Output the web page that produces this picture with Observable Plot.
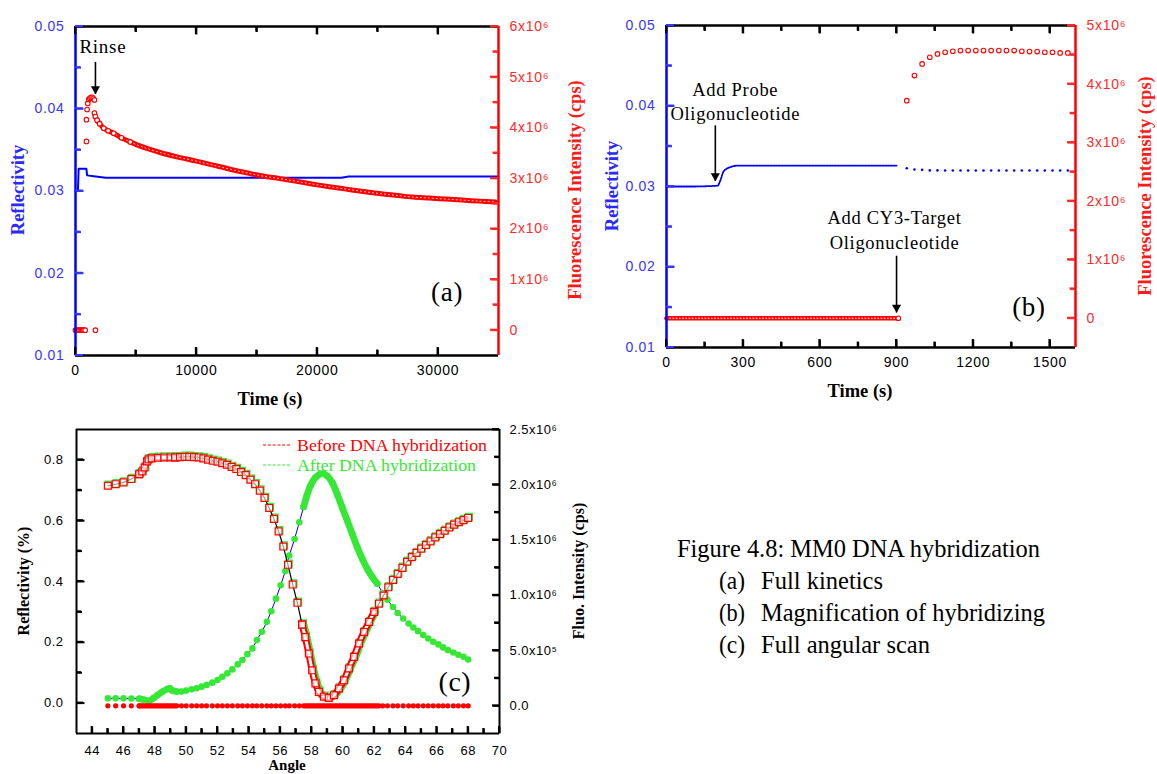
<!DOCTYPE html>
<html>
<head>
<meta charset="utf-8">
<script src="https://cdn.jsdelivr.net/npm/d3@7"></script>
<script src="https://cdn.jsdelivr.net/npm/@observablehq/plot@0.6"></script>
<style>
  body { margin: 0; background: #fff; }
  #fig { position: relative; width: 1157px; height: 774px; overflow: hidden; background: #fff; }
  #fig svg { position: absolute; left: 0; top: 0; }
</style>
</head>
<body>
<div id="fig"></div>
<script>
// ================= Panel (a): full kinetics =================
const aTimeDomain = [0, 35000];
const aReflDomain = [0.01, 0.05];
const aFluoDomain = [-0.5e6, 6e6];
const aTimeMajor = [0, 10000, 20000, 30000];
const aTimeMinor = [5000, 15000, 25000];
const aReflMajor = [0.01, 0.02, 0.03, 0.04, 0.05];
const aReflMinor = [0.015, 0.025, 0.035, 0.045];
const aFluoMajor = [0, 1e6, 2e6, 3e6, 4e6, 5e6, 6e6];
const aFluoMinor = [0.5e6, 1.5e6, 2.5e6, 3.5e6, 4.5e6, 5.5e6];

const aReflTime = [0, 200, 260, 900, 960, 1500, 2500, 6000, 10000, 14000, 18000, 22000, 22600, 26000, 30000, 35000];
const aRefl     = [0.0300, 0.0300, 0.0327, 0.0327, 0.0319, 0.0318, 0.0316, 0.0316, 0.0316, 0.0316, 0.0316, 0.0316, 0.03175, 0.03175, 0.03175, 0.03175];

const aFluoZeroTime = [0, 100, 200, 300, 400, 500, 600, 700, 800, 1650];
const aFluoZero     = [0, 0, 0, 0, 0, 0, 0, 0, 0, 0];
const aFluoRiseTime = [907, 907, 960, 1015, 1100, 1180, 1280, 1375, 1470, 1565];
const aFluoRise     = [3.73e6, 4.16e6, 4.36e6, 4.48e6, 4.56e6, 4.58e6, 4.60e6, 4.60e6, 4.58e6, 4.55e6];
const aFluoDecayTime = [1565, 1650, 1786, 2000, 2335, 2700, 3160, 3800, 4534, 5200, 5907, 7000, 8656, 10000, 11400, 12800, 14150, 15500, 16900, 18300, 19650, 21000, 22400, 23800, 25150, 26500, 27900, 29300, 30640, 32000, 33400, 34770];
const aFluoDecay     = [4.29e6, 4.22e6, 4.15e6, 4.08e6, 3.99e6, 3.94e6, 3.89e6, 3.80e6, 3.72e6, 3.65e6, 3.59e6, 3.51e6, 3.41e6, 3.34e6, 3.26e6, 3.18e6, 3.11e6, 3.045e6, 2.995e6, 2.94e6, 2.885e6, 2.835e6, 2.787e6, 2.74e6, 2.70e6, 2.665e6, 2.63e6, 2.61e6, 2.59e6, 2.57e6, 2.55e6, 2.535e6];

const aNoteText = ["Rinse"];
const aNoteX = [330];
const aNoteY = [0.0468];
const aArrowX = [1650];
const aArrowY1 = [0.0457];
const aArrowY2 = [0.0418];
const aPanelLabel = ["(a)"];
const aPanelX = [30750];
const aPanelY = [0.0177];

// ================= Panel (b): magnification =================
const bTimeDomain = [0, 1600];
const bReflDomain = [0.01, 0.05];
const bFluoDomain = [-0.5e6, 5e6];
const bTimeMajor = [0, 300, 600, 900, 1200, 1500];
const bTimeMinor = [150, 450, 750, 1050, 1350];
const bReflMajor = [0.01, 0.02, 0.03, 0.04, 0.05];
const bReflMinor = [0.015, 0.025, 0.035, 0.045];
const bFluoMajor = [0, 1e6, 2e6, 3e6, 4e6, 5e6];
const bFluoMinor = [0.5e6, 1.5e6, 2.5e6, 3.5e6, 4.5e6];

const bReflTime = [0, 100, 200, 210, 222, 235, 250, 277, 320, 400, 500, 600, 700, 800, 900];
const bRefl     = [0.0300, 0.0300, 0.0301, 0.0307, 0.0318, 0.0322, 0.0324, 0.0326, 0.0326, 0.0326, 0.0326, 0.0326, 0.0326, 0.0326, 0.0326];
const bLateTime = [940, 970, 1000, 1030, 1060, 1090, 1120, 1150, 1180, 1210, 1240, 1270, 1300, 1330, 1360, 1390, 1420, 1450, 1480, 1510, 1540, 1570];
const bReflLate = [0.03227, 0.03211, 0.03207, 0.03200, 0.03200, 0.03199, 0.03199, 0.03199, 0.03198, 0.03199, 0.03199, 0.03198, 0.03199, 0.03199, 0.03198, 0.03199, 0.03199, 0.03198, 0.03199, 0.03199, 0.03198, 0.03199];
const bFluoLate = [3.716e6, 4.144e6, 4.344e6, 4.458e6, 4.515e6, 4.543e6, 4.560e6, 4.572e6, 4.572e6, 4.572e6, 4.572e6, 4.572e6, 4.572e6, 4.572e6, 4.572e6, 4.560e6, 4.555e6, 4.555e6, 4.543e6, 4.543e6, 4.532e6, 4.532e6];
const bFluoZeroTime = [0, 150, 300, 450, 600, 750, 907];
const bFluoZero     = [0, 0, 0, 0, 0, 0, 0];

const bNoteText = ["Add Probe\nOligonucleotide", "Add CY3-Target\nOligonucleotide"];
const bNoteX = [269, 892];
const bNoteY = [0.0434, 0.0274];
const bArrowX = [191, 900];
const bArrowY1 = [0.0376, 0.0214];
const bArrowY2 = [0.0307, 0.01435];
const bPanelLabel = ["(b)"];
const bPanelX = [1418];
const bPanelY = [0.0150];

// ================= Panel (c): angular scan =================
const cAngleDomain = [43, 70];
const cReflDomain = [-0.1, 0.9];
const cFluoDomain = [-0.25e6, 2.5e6];
const cAngleMajor = [44, 46, 48, 50, 52, 54, 56, 58, 60, 62, 64, 66, 68, 70];
const cAngleMinor = [45, 47, 49, 51, 53, 55, 57, 59, 61, 63, 65, 67, 69];
const cReflMajor = [0, 0.2, 0.4, 0.6, 0.8];
const cReflMinor = [0.1, 0.3, 0.5, 0.7];
const cFluoMajor = [0, 0.5e6, 1e6, 1.5e6, 2e6, 2.5e6];
const cFluoMinor = [0.25e6, 0.75e6, 1.25e6, 1.75e6, 2.25e6];

// reflectivity before hybridization (red squares)
const cReflAngleA = [45.0, 45.5, 46.0, 46.5, 47.0];
const cReflA      = [0.715, 0.720, 0.726, 0.737, 0.753];
const cReflBandAngle1 = [47.0, 47.2, 47.35, 47.5, 47.6, 47.8, 48.2, 48.6, 49.0, 49.3];
const cReflBand1      = [0.753, 0.762, 0.775, 0.795, 0.802, 0.805, 0.807, 0.808, 0.808, 0.808];
const cReflAngleB = [49.3, 49.6, 49.9, 50.2, 50.5, 50.8, 51.1, 51.4, 51.7, 52.0, 52.3, 52.6, 52.9, 53.2, 53.5, 53.8, 54.1, 54.4, 54.7, 55.0, 55.3, 55.6, 55.9, 56.2, 56.5, 56.8, 57.1, 57.4];
const cReflB      = [0.808, 0.809, 0.810, 0.810, 0.809, 0.808, 0.805, 0.801, 0.797, 0.794, 0.789, 0.784, 0.777, 0.770, 0.760, 0.750, 0.735, 0.720, 0.699, 0.675, 0.642, 0.606, 0.565, 0.515, 0.455, 0.390, 0.330, 0.258];
const cReflBandAngle2 = [57.4, 57.6, 57.83, 58.04, 58.25, 58.47, 58.79, 59.1, 59.43, 59.75, 60.07, 60.39, 60.71, 61.03, 61.35, 61.67, 62.0];
const cReflBand2      = [0.258, 0.217, 0.163, 0.108, 0.065, 0.037, 0.021, 0.017, 0.026, 0.048, 0.075, 0.114, 0.152, 0.196, 0.234, 0.267, 0.300];
const cReflAngleC = [62.3, 62.6, 62.9, 63.2, 63.5, 63.8, 64.1, 64.4, 64.7, 65.0, 65.3, 65.6, 65.9, 66.2, 66.5, 66.8, 67.1, 67.4, 67.7, 68.0];
const cReflC      = [0.327, 0.354, 0.381, 0.405, 0.425, 0.445, 0.465, 0.480, 0.494, 0.508, 0.520, 0.532, 0.545, 0.556, 0.567, 0.578, 0.587, 0.595, 0.602, 0.609];
// reflectivity after hybridization (green squares), differs in the dip
const cReflAfterBandAngle = [57.5, 57.7, 57.95, 58.15, 58.4, 58.6, 58.9, 59.25, 59.55, 59.9, 60.2, 60.5, 60.85, 61.15, 61.5, 61.8, 62.1];
const cReflAfterBand      = [0.262, 0.220, 0.160, 0.110, 0.063, 0.036, 0.021, 0.018, 0.027, 0.050, 0.078, 0.115, 0.155, 0.197, 0.237, 0.270, 0.300];

// fluorescence after hybridization (green dots)
const cFluoAngleA = [45.0, 45.5, 46.0, 46.5, 47.0];
const cFluoA      = [0.069e6, 0.069e6, 0.068e6, 0.066e6, 0.064e6];
const cFluoBandAngle1 = [47.0, 47.3, 47.6, 47.9, 48.2, 48.5, 48.8, 48.95, 49.1, 49.4];
const cFluoBand1      = [0.064e6, 0.055e6, 0.045e6, 0.069e6, 0.100e6, 0.130e6, 0.153e6, 0.160e6, 0.140e6, 0.129e6];
const cFluoAngleB = [49.7, 50.0, 50.35, 50.67, 50.99, 51.3, 51.67, 52.0, 52.31, 52.63, 52.95, 53.29, 53.59, 53.91, 54.23, 54.51, 54.83, 55.15, 55.43, 55.73, 56.03, 56.33, 56.58, 56.92, 57.22, 57.5];
const cFluoB      = [0.129e6, 0.138e6, 0.150e6, 0.159e6, 0.174e6, 0.189e6, 0.210e6, 0.234e6, 0.264e6, 0.294e6, 0.330e6, 0.375e6, 0.414e6, 0.468e6, 0.520e6, 0.595e6, 0.670e6, 0.760e6, 0.856e6, 0.970e6, 1.090e6, 1.219e6, 1.360e6, 1.510e6, 1.660e6, 1.800e6];
const cFluoBandAngle2 = [57.5, 57.7, 57.93, 58.25, 58.68, 59.0, 59.32, 59.64, 59.96, 60.28, 60.6, 60.92, 61.24, 61.56, 61.88, 62.2];
const cFluoBand2      = [1.800e6, 1.900e6, 1.990e6, 2.065e6, 2.100e6, 2.080e6, 2.020e6, 1.915e6, 1.795e6, 1.676e6, 1.556e6, 1.435e6, 1.330e6, 1.240e6, 1.165e6, 1.105e6];
const cFluoAngleC = [62.55, 62.85, 63.2, 63.5, 63.85, 64.2, 64.5, 64.8, 65.13, 65.45, 65.77, 66.1, 66.4, 66.7, 67.05, 67.37, 67.7, 68.0];
const cFluoC      = [1.020e6, 0.960e6, 0.895e6, 0.840e6, 0.790e6, 0.745e6, 0.709e6, 0.676e6, 0.640e6, 0.610e6, 0.580e6, 0.556e6, 0.529e6, 0.505e6, 0.483e6, 0.462e6, 0.444e6, 0.420e6];

// fluorescence before hybridization (red dots, at zero)
const cFluoZeroAngle = [45.0, 45.5, 46.0, 46.5, 47.0, 49.7, 50.0, 50.35, 50.67, 50.99, 51.3, 51.67, 52.0, 52.31, 52.63, 52.95, 53.29, 53.59, 53.91, 54.23, 54.51, 54.83, 55.15, 55.43, 55.73, 56.03, 56.33, 56.58, 56.92, 57.22, 62.55, 62.85, 63.2, 63.5, 63.85, 64.2, 64.5, 64.8, 65.13, 65.45, 65.77, 66.1, 66.4, 66.7, 67.05, 67.37, 67.7, 68.0];
const cFluoZero      = [0, 0, 0, 0, 0, 0, 0, 0, 0, 0, 0, 0, 0, 0, 0, 0, 0, 0, 0, 0, 0, 0, 0, 0, 0, 0, 0, 0, 0, 0, 0, 0, 0, 0, 0, 0, 0, 0, 0, 0, 0, 0, 0, 0, 0, 0, 0, 0];
const cFluoZeroBandAngle1 = [47.0, 49.4];
const cFluoZeroBandAngle2 = [57.5, 62.3];
const cFluoZeroBand = [0, 0];

const cPanelLabel = ["(c)"];
const cPanelX = [67.15];
const cPanelY = [0.0705];

const legendLabels = ["Before DNA hybridization", "After DNA hybridization"];
const captionTitle = "Figure 4.8: MM0 DNA hybridization";
const captionKeys = ["(a)", "(b)", "(c)"];
const captionItems = ["Full kinetics", "Magnification of hybridizing", "Full angular scan"];

// ================= rendering =================
const W = 1157, H = 774;
const SANS = "'Liberation Sans', Arial, sans-serif";
const SERIF = "'Liberation Serif', 'Times New Roman', serif";
const BLUE = "#0000ff", BLUE_T = "#3636ff", RED = "#ff0000", RED_T = "#ff2a2a", GREEN = "#36e836";
const fig = document.getElementById("fig");
const add = el => fig.appendChild(el);

function box(b, ls) {
  const [L, T, R, B] = b;
  return {
    width: W, height: H,
    marginLeft: L, marginTop: T, marginRight: W - R, marginBottom: H - B,
    style: `position:absolute;left:0;top:0;background:transparent;overflow:visible;font-family:${SANS};letter-spacing:${ls}px;`
  };
}
// inward ticks as short links, lengths converted from pixels to data units
function tickLinks(b, xDom, yDom, side, values, len, color) {
  const ux = (xDom[1] - xDom[0]) / (b[2] - b[0]);
  const uy = (yDom[1] - yDom[0]) / (b[3] - b[1]);
  const o = {stroke: color, strokeWidth: 2};
  if (side === "bottom") return Plot.link(values, {x1: d => d, x2: d => d, y1: () => yDom[0], y2: () => yDom[0] + len * uy, ...o});
  if (side === "top") return Plot.link(values, {x1: d => d, x2: d => d, y1: () => yDom[1], y2: () => yDom[1] - len * uy, ...o});
  if (side === "left") return Plot.link(values, {y1: d => d, y2: d => d, x1: () => xDom[0], x2: () => xDom[0] + len * ux, ...o});
  return Plot.link(values, {y1: d => d, y2: d => d, x1: () => xDom[1], x2: () => xDom[1] - len * ux, ...o});
}
function yAxisMarks(b, xDom, yDom, anchor, major, minor, color, fmt, fs, pad, len, mlen) {
  return [
    tickLinks(b, xDom, yDom, anchor, major, len, color),
    tickLinks(b, xDom, yDom, anchor, minor, mlen, color),
    Plot.axisY(major, {anchor, tickSize: 0, tickPadding: pad, tickFormat: fmt, color, fontSize: fs, label: null})
  ];
}
function xAxisMarks(b, xDom, yDom, anchor, major, minor, fmt, fs, pad, len, mlen) {
  const marks = [
    tickLinks(b, xDom, yDom, anchor, major, len, "black"),
    tickLinks(b, xDom, yDom, anchor, minor, mlen, "black")
  ];
  if (fmt) marks.push(Plot.axisX(major, {anchor, tickSize: 0, tickPadding: pad, tickFormat: fmt, color: "black", fontSize: fs, label: null}));
  return marks;
}
function arrowMarks(X, Y1, Y2) {
  return [
    Plot.link(X, {x1: X, x2: X, y1: Y1, y2: Y2, stroke: "black", strokeWidth: 1.6}),
    Plot.dot(X, {x: X, y: Y2, symbol: "triangle", rotate: 180, r: 3.4, fill: "black", stroke: "none", dy: -5})
  ];
}
const sciFmt = d => d === 0 ? "0" : (d / 1e6) + "x10\u2076";
const sciFmtC = d => d === 0 ? "0.0" : d < 1e6 ? (d / 1e5).toFixed(1) + "x10\u2075" : (d / 1e6).toFixed(1) + "x10\u2076";

const aBox = [75, 26, 498, 355];
const bBox = [666, 25, 1075, 347];
const cBox = [76, 429, 499, 733];

// ---------- data layers ----------
add(Plot.plot({
  ...box(aBox, 0.7),
  x: {domain: aTimeDomain, axis: null}, y: {domain: aReflDomain, axis: null},
  marks: [
    Plot.line(aRefl, {x: aReflTime, y: aRefl, stroke: BLUE, strokeWidth: 2}),
    ...arrowMarks(aArrowX, aArrowY1, aArrowY2),
    Plot.text(aNoteText, {x: aNoteX, y: aNoteY, textAnchor: "start", lineAnchor: "bottom", fontSize: 19, fontFamily: SERIF, fill: "black"}),
    Plot.text(aPanelLabel, {x: aPanelX, y: aPanelY, fontSize: 27, fontFamily: SERIF, fill: "black", lineAnchor: "middle"})
  ]
}));
add(Plot.plot({
  ...box(aBox, 0.7),
  x: {domain: aTimeDomain, axis: null}, y: {domain: aFluoDomain, axis: null},
  marks: [
    Plot.dot(aFluoZero, {x: aFluoZeroTime, y: aFluoZero, r: 2.3, stroke: RED, fill: "white", strokeWidth: 1.1}),
    Plot.line(aFluoDecay, {x: aFluoDecayTime, y: aFluoDecay, stroke: RED, strokeWidth: 5, curve: "catmull-rom"}),
    Plot.line(aFluoDecay, {x: aFluoDecayTime, y: aFluoDecay, stroke: "white", strokeWidth: 0.9, strokeDasharray: "1,3", curve: "catmull-rom"}),
    Plot.dot(aFluoDecay.slice(0, 9), {x: aFluoDecayTime.slice(0, 9), y: aFluoDecay.slice(0, 9), r: 2.3, stroke: RED, fill: "white", strokeWidth: 1.1}),
    Plot.dot(aFluoRise, {x: aFluoRiseTime, y: aFluoRise, r: 2.3, stroke: RED, fill: "white", strokeWidth: 1.1})
  ]
}));
add(Plot.plot({
  ...box(bBox, 0.7),
  x: {domain: bTimeDomain, axis: null}, y: {domain: bReflDomain, axis: null},
  marks: [
    Plot.line(bRefl, {x: bReflTime, y: bRefl, stroke: BLUE, strokeWidth: 1.8, strokeDasharray: "1.6,1.2", curve: "monotone-x"}),
    Plot.dot(bReflLate, {x: bLateTime, y: bReflLate, r: 1.3, fill: BLUE, stroke: "none"}),
    ...arrowMarks(bArrowX, bArrowY1, bArrowY2),
    Plot.text(bNoteText, {x: bNoteX, y: bNoteY, textAnchor: "middle", lineAnchor: "top", lineHeight: 1.3, fontSize: 18.5, fontFamily: SERIF, fill: "black"}),
    Plot.text(bPanelLabel, {x: bPanelX, y: bPanelY, fontSize: 27, fontFamily: SERIF, fill: "black", lineAnchor: "middle"})
  ]
}));
add(Plot.plot({
  ...box(bBox, 0.7),
  x: {domain: bTimeDomain, axis: null}, y: {domain: bFluoDomain, axis: null},
  marks: [
    Plot.line(bFluoZero, {x: bFluoZeroTime, y: bFluoZero, stroke: RED, strokeWidth: 4.6}),
    Plot.line(bFluoZero, {x: bFluoZeroTime, y: bFluoZero, stroke: "white", strokeWidth: 1, strokeDasharray: "1,2.2"}),
    Plot.dot(bFluoZero.slice(-1), {x: bFluoZeroTime.slice(-1), y: bFluoZero.slice(-1), r: 2.3, stroke: RED, fill: "white", strokeWidth: 1.1}),
    Plot.dot(bFluoLate, {x: bLateTime, y: bFluoLate, r: 2.3, stroke: RED, fill: "white", strokeWidth: 1.1})
  ]
}));
const cFluoAllAngle = [...cFluoAngleA, ...cFluoBandAngle1, ...cFluoAngleB, ...cFluoBandAngle2, ...cFluoAngleC];
const cFluoAll = [...cFluoA, ...cFluoBand1, ...cFluoB, ...cFluoBand2, ...cFluoC];
add(Plot.plot({
  ...box(cBox, 0.5),
  x: {domain: cAngleDomain, axis: null}, y: {domain: cFluoDomain, axis: null},
  marks: [
    Plot.line(cFluoAll, {x: cFluoAllAngle, y: cFluoAll, stroke: BLUE, strokeWidth: 1}),
    Plot.line(cFluoBand1, {x: cFluoBandAngle1, y: cFluoBand1, stroke: GREEN, strokeWidth: 6.5, strokeLinecap: "round", curve: "catmull-rom"}),
    Plot.line(cFluoBand2, {x: cFluoBandAngle2, y: cFluoBand2, stroke: GREEN, strokeWidth: 6.8, strokeLinecap: "round", curve: "catmull-rom"}),
    Plot.dot(cFluoAll, {x: cFluoAllAngle, y: cFluoAll, r: 3.3, fill: GREEN, stroke: "none"}),
    Plot.line(cFluoZeroBand, {x: cFluoZeroBandAngle1, y: cFluoZeroBand, stroke: RED, strokeWidth: 5.2, strokeLinecap: "round"}),
    Plot.line(cFluoZeroBand, {x: cFluoZeroBandAngle2, y: cFluoZeroBand, stroke: RED, strokeWidth: 5.2, strokeLinecap: "round"}),
    Plot.dot(cFluoZero, {x: cFluoZeroAngle, y: cFluoZero, r: 2.6, fill: RED, stroke: "none"})
  ]
}));
const cReflAllAngle = [...cReflAngleA, ...cReflBandAngle1, ...cReflAngleB, ...cReflBandAngle2, ...cReflAngleC];
const cReflAll = [...cReflA, ...cReflBand1, ...cReflB, ...cReflBand2, ...cReflC];
add(Plot.plot({
  ...box(cBox, 0.5),
  x: {domain: cAngleDomain, axis: null}, y: {domain: cReflDomain, axis: null},
  marks: [
    Plot.line(cReflAfterBand, {x: cReflAfterBandAngle, y: cReflAfterBand, stroke: GREEN, strokeWidth: 7, curve: "catmull-rom"}),
    Plot.dot(cReflAll, {x: cReflAllAngle, y: cReflAll, symbol: "square", r: 3.9, fill: "white", stroke: GREEN, strokeWidth: 1.2, dx: 0.8, dy: -1.2}),
    Plot.line(cReflAll, {x: cReflAllAngle, y: cReflAll, stroke: "black", strokeWidth: 1.2}),
    Plot.line(cReflBand1, {x: cReflBandAngle1, y: cReflBand1, stroke: RED, strokeWidth: 7, curve: "catmull-rom"}),
    Plot.line(cReflBand2, {x: cReflBandAngle2, y: cReflBand2, stroke: RED, strokeWidth: 7, curve: "catmull-rom"}),
    Plot.line(cReflBand1, {x: cReflBandAngle1, y: cReflBand1, stroke: "white", strokeWidth: 3, strokeDasharray: "2,1.4", curve: "catmull-rom"}),
    Plot.line(cReflBand2, {x: cReflBandAngle2, y: cReflBand2, stroke: "white", strokeWidth: 3, strokeDasharray: "2,1.4", curve: "catmull-rom"}),
    Plot.dot(cReflAll, {x: cReflAllAngle, y: cReflAll, symbol: "square", r: 3.9, fill: "white", fillOpacity: 0.6, stroke: RED, strokeWidth: 1.2}),
    Plot.text(cPanelLabel, {x: cPanelX, y: cPanelY, fontSize: 28, fontFamily: SERIF, fill: "black", lineAnchor: "middle"})
  ]
}));

// ---------- overlay text: axis titles, legend, caption ----------
const ov = d3.create("svg").attr("width", W).attr("height", H)
  .style("position", "absolute").style("left", "0px").style("top", "0px").style("overflow", "visible");
function vtitle(x, y, txt, color, fs) {
  ov.append("text").attr("x", x).attr("y", y).attr("dy", "0.35em").attr("text-anchor", "middle")
    .attr("transform", `rotate(-90,${x},${y})`).attr("fill", color)
    .style("font-family", SERIF).style("font-weight", "bold").style("font-size", fs + "px").text(txt);
}
function htitle(x, y, txt, color, fs) {
  ov.append("text").attr("x", x).attr("y", y).attr("text-anchor", "middle").attr("fill", color)
    .style("font-family", SERIF).style("font-weight", "bold").style("font-size", fs + "px").text(txt);
}
vtitle(18, 190, "Reflectivity", "#2a2aff", 18.5);
vtitle(575, 190, "Fluorescence Intensity (cps)", "#ff1a1a", 18.5);
htitle(270, 405, "Time (s)", "black", 18.5);
vtitle(612, 186, "Reflectivity", "#2a2aff", 18.5);
vtitle(1145, 186, "Fluorescence Intensity (cps)", "#ff1a1a", 18.5);
htitle(860, 397, "Time (s)", "black", 18.5);
vtitle(23, 581, "Reflectivity (%)", "black", 16);
vtitle(578, 571, "Fluo. Intensity (cps)", "black", 16);
htitle(287, 770, "Angle", "black", 15);

const legendColors = [RED, GREEN];
const legendY = [445, 465];
legendLabels.forEach((lab, i) => {
  ov.append("line").attr("x1", 263).attr("x2", 291).attr("y1", legendY[i]).attr("y2", legendY[i])
    .attr("stroke", legendColors[i]).attr("stroke-width", 1.2).attr("stroke-dasharray", "3,1.8");
  ov.append("text").attr("x", 297).attr("y", legendY[i] + 5.5).attr("fill", legendColors[i])
    .attr("textLength", i === 0 ? 190 : 179).attr("lengthAdjust", "spacingAndGlyphs")
    .style("font-family", SERIF).style("font-size", "16.5px").text(lab);
});
ov.append("text").attr("x", 677).attr("y", 557).attr("textLength", 363).attr("lengthAdjust", "spacingAndGlyphs")
  .style("font-family", SERIF).style("font-size", "26px").attr("fill", "black").text(captionTitle);
const capLens = [122, 284, 169];
captionItems.forEach((t, i) => {
  const y = 589 + 32 * i;
  ov.append("text").attr("x", 719).attr("y", y).attr("textLength", 26).attr("lengthAdjust", "spacingAndGlyphs")
    .style("font-family", SERIF).style("font-size", "26px").attr("fill", "black").text(captionKeys[i]);
  ov.append("text").attr("x", 761).attr("y", y).attr("textLength", capLens[i]).attr("lengthAdjust", "spacingAndGlyphs")
    .style("font-family", SERIF).style("font-size", "26px").attr("fill", "black").text(t);
});
add(ov.node());

// ---------- axes layers (appended last, on top) ----------
const axA1 = Plot.plot({
  ...box(aBox, 0.7),
  x: {domain: aTimeDomain}, y: {domain: aReflDomain},
  marks: [
    ...xAxisMarks(aBox, aTimeDomain, aReflDomain, "bottom", aTimeMajor, aTimeMinor, d => String(d), 14, 10, 8, 5.5),
    ...xAxisMarks(aBox, aTimeDomain, aReflDomain, "top", aTimeMajor, aTimeMinor, null, 14, 0, 8, 5.5),
    ...yAxisMarks(aBox, aTimeDomain, aReflDomain, "left", aReflMajor, aReflMinor, BLUE_T, d3.format(".2f"), 14, 11, 8, 5.5),
    Plot.ruleY([aReflDomain[0]], {stroke: "black", strokeWidth: 2.5}),
    Plot.ruleY([aReflDomain[1]], {stroke: "black", strokeWidth: 2.5}),
    Plot.ruleX([aTimeDomain[0]], {stroke: BLUE, strokeWidth: 2.5})
  ]
});
add(axA1);
const axA2 = Plot.plot({
  ...box(aBox, 0.7),
  x: {domain: aTimeDomain, axis: null}, y: {domain: aFluoDomain},
  marks: [
    ...yAxisMarks(aBox, aTimeDomain, aFluoDomain, "right", aFluoMajor, aFluoMinor, RED_T, sciFmt, 14, 11, 8, 5.5),
    Plot.ruleX([aTimeDomain[1]], {stroke: RED, strokeWidth: 2.5})
  ]
});
add(axA2);
const axB1 = Plot.plot({
  ...box(bBox, 0.7),
  x: {domain: bTimeDomain}, y: {domain: bReflDomain},
  marks: [
    ...xAxisMarks(bBox, bTimeDomain, bReflDomain, "bottom", bTimeMajor, bTimeMinor, d => String(d), 14, 10, 8, 5.5),
    ...xAxisMarks(bBox, bTimeDomain, bReflDomain, "top", bTimeMajor, bTimeMinor, null, 14, 0, 8, 5.5),
    ...yAxisMarks(bBox, bTimeDomain, bReflDomain, "left", bReflMajor, bReflMinor, BLUE_T, d3.format(".2f"), 14, 11, 8, 5.5),
    Plot.ruleY([bReflDomain[0]], {stroke: "black", strokeWidth: 2.5}),
    Plot.ruleY([bReflDomain[1]], {stroke: "black", strokeWidth: 2.5}),
    Plot.ruleX([bTimeDomain[0]], {stroke: BLUE, strokeWidth: 2.5})
  ]
});
add(axB1);
const axB2 = Plot.plot({
  ...box(bBox, 0.7),
  x: {domain: bTimeDomain, axis: null}, y: {domain: bFluoDomain},
  marks: [
    ...yAxisMarks(bBox, bTimeDomain, bFluoDomain, "right", bFluoMajor, bFluoMinor, RED_T, sciFmt, 14, 11, 8, 5.5),
    Plot.ruleX([bTimeDomain[1]], {stroke: RED, strokeWidth: 2.5})
  ]
});
add(axB2);
const axC1 = Plot.plot({
  ...box(cBox, 0.5),
  x: {domain: cAngleDomain}, y: {domain: cReflDomain},
  marks: [
    ...xAxisMarks(cBox, cAngleDomain, cReflDomain, "bottom", cAngleMajor, cAngleMinor, d => String(d), 13, 12, 7, 5),
    ...yAxisMarks(cBox, cAngleDomain, cReflDomain, "left", cReflMajor, cReflMinor, "black", d3.format(".1f"), 13, 13, 8, 5.5),
    Plot.ruleY([cReflDomain[0]], {stroke: "black", strokeWidth: 2}),
    Plot.ruleY([cReflDomain[1]], {stroke: "black", strokeWidth: 2}),
    Plot.ruleX([cAngleDomain[0]], {stroke: "black", strokeWidth: 2})
  ]
});
add(axC1);
const axC2 = Plot.plot({
  ...box(cBox, 0.5),
  x: {domain: cAngleDomain, axis: null}, y: {domain: cFluoDomain},
  marks: [
    ...yAxisMarks(cBox, cAngleDomain, cFluoDomain, "right", cFluoMajor, cFluoMinor, "black", sciFmtC, 13, 10, 7, 5),
    Plot.ruleX([cAngleDomain[1]], {stroke: "black", strokeWidth: 2})
  ]
});
add(axC2);

// ---------- extra tick layer placed with Plot's own scales (same positions) ----------
const tk = d3.create("svg").attr("width", W).attr("height", H)
  .style("position", "absolute").style("left", "0px").style("top", "0px").style("overflow", "visible");
function ovTicks(plot, b, side, values, len, color) {
  const s = plot.scale(side === "left" || side === "right" ? "y" : "x");
  values.forEach(v => {
    const p = s.apply(v);
    let x1, x2, y1, y2;
    if (side === "bottom") { x1 = x2 = p; y1 = b[3]; y2 = b[3] - len; }
    else if (side === "top") { x1 = x2 = p; y1 = b[1]; y2 = b[1] + len; }
    else if (side === "left") { y1 = y2 = p; x1 = b[0]; x2 = b[0] + len; }
    else { y1 = y2 = p; x1 = b[2]; x2 = b[2] - len; }
    tk.append("path").attr("d", `M${x1},${y1}L${x2},${y2}`).attr("stroke", color).attr("stroke-width", 2).attr("fill", "none");
  });
}
[[axA1, axA2, aBox, aTimeMajor, aTimeMinor, aReflMajor, aReflMinor, aFluoMajor, aFluoMinor, BLUE_T, RED_T, true, 8, 5.5],
 [axB1, axB2, bBox, bTimeMajor, bTimeMinor, bReflMajor, bReflMinor, bFluoMajor, bFluoMinor, BLUE_T, RED_T, true, 8, 5.5],
 [axC1, axC2, cBox, cAngleMajor, cAngleMinor, cReflMajor, cReflMinor, cFluoMajor, cFluoMinor, "black", "black", false, 7, 5]
].forEach(([p1, p2, b, xM, xm, yM, ym, rM, rm, cl, cr, top, len, mlen]) => {
  ovTicks(p1, b, "bottom", xM, len, "black");
  ovTicks(p1, b, "bottom", xm, mlen, "black");
  if (top) { ovTicks(p1, b, "top", xM, len, "black"); ovTicks(p1, b, "top", xm, mlen, "black"); }
  ovTicks(p1, b, "left", yM, len, cl);
  ovTicks(p1, b, "left", ym, mlen, cl);
  ovTicks(p2, b, "right", rM, len, cr);
  ovTicks(p2, b, "right", rm, mlen, cr);
});
add(tk.node());
</script>
</body>
</html>
